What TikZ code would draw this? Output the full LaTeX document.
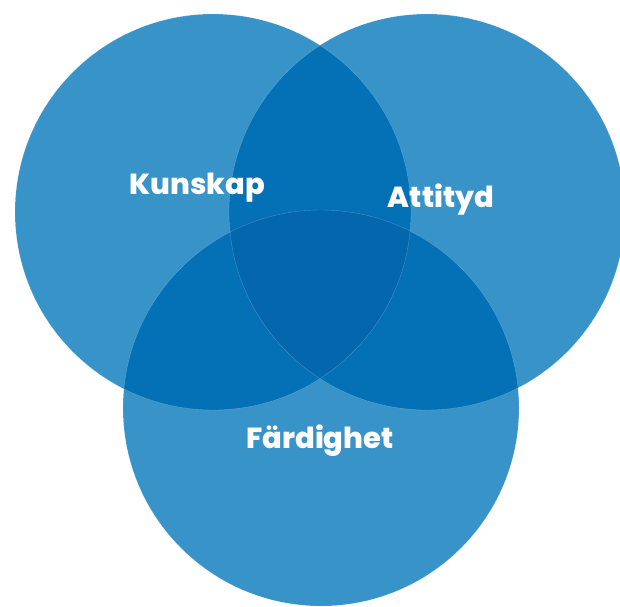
\documentclass[tikz,border=0pt]{standalone}
\usepackage{fontspec}
\setmainfont{Poppins}[UprightFont=* ExtraBold]
\definecolor{one}{HTML}{3893C8}
\definecolor{two}{HTML}{0471B6}
\definecolor{three}{HTML}{0466AC}
\begin{document}
\begin{tikzpicture}[x=1pt,y=-1pt,
  lbl/.style={text=white,font=\fontsize{29}{30}\selectfont,anchor=base,inner sep=0pt},
  edge/.style={draw=white,draw opacity=0.25,line width=0.4pt}]
\useasboundingbox (0,0) rectangle (620,606);
\def\r{198}
\coordinate (L) at (213,212);
\coordinate (R) at (427,212);
\coordinate (B) at (321,408);
\fill[one] (L) circle (\r);
\fill[one] (R) circle (\r);
\fill[one] (B) circle (\r);
\begin{scope}\clip (L) circle (\r); \fill[two] (R) circle (\r); \fill[two] (B) circle (\r);\end{scope}
\begin{scope}\clip (R) circle (\r); \fill[two] (B) circle (\r);\end{scope}
\begin{scope}\clip (L) circle (\r); \clip (R) circle (\r); \fill[three] (B) circle (\r);\end{scope}
\draw[edge] (L) circle (\r) (R) circle (\r) (B) circle (\r);
\node[lbl] (k) at (197,194) {Kunskap};
\node[lbl] (a) at (441,207) {Attityd};
\node[lbl] (f) at (320,448) {Färdighet};
\end{tikzpicture}
\end{document}
